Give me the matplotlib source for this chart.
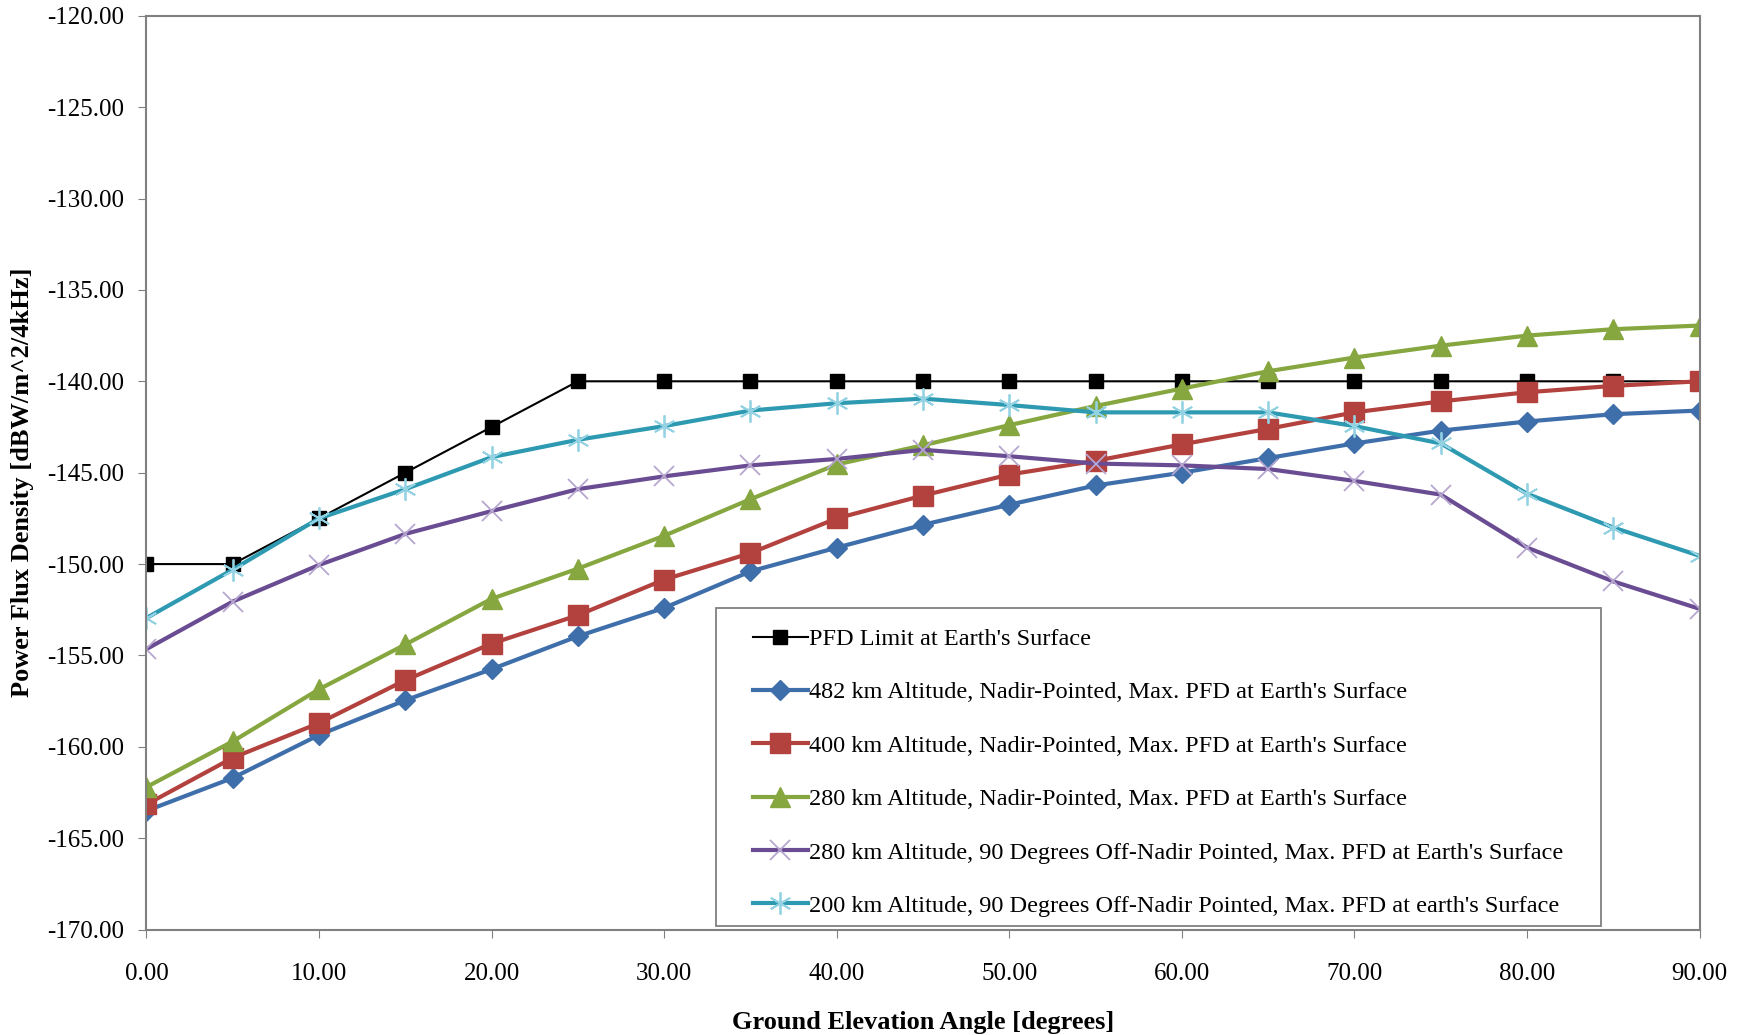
import matplotlib
matplotlib.use('Agg')
import matplotlib.pyplot as plt
from matplotlib.patches import Rectangle

plt.rcParams['font.family'] = ['Liberation Serif', 'DejaVu Serif']

angles = [0, 5, 10, 15, 20, 25, 30, 35, 40, 45, 50, 55, 60, 65, 70, 75, 80, 85, 90]

pfd_limit = [-150, -150, -147.5, -145, -142.5, -140, -140, -140, -140, -140,
             -140, -140, -140, -140, -140, -140, -140, -140, -140]
alt482 = [-163.5, -161.7, -159.35, -157.45, -155.75, -153.95, -152.4, -150.4, -149.1, -147.85,
          -146.75, -145.7, -145.0, -144.2, -143.4, -142.7, -142.2, -141.8, -141.6]
alt400 = [-163.15, -160.6, -158.7, -156.35, -154.35, -152.8, -150.85, -149.4, -147.5, -146.25,
          -145.1, -144.35, -143.45, -142.6, -141.7, -141.1, -140.6, -140.25, -140.0]
alt280 = [-162.2, -159.7, -156.85, -154.4, -151.9, -150.25, -148.45, -146.45, -144.55, -143.5,
          -142.4, -141.35, -140.4, -139.45, -138.7, -138.05, -137.5, -137.15, -136.95]
alt280_off = [-154.65, -152.05, -150.05, -148.35, -147.1, -145.9, -145.2, -144.6, -144.25, -143.75,
              -144.1, -144.5, -144.6, -144.8, -145.45, -146.2, -149.1, -150.95, -152.45]
alt200_off = [-152.95, -150.3, -147.5, -145.9, -144.15, -143.2, -142.45, -141.6, -141.2, -140.95,
              -141.3, -141.7, -141.7, -141.7, -142.45, -143.4, -146.15, -148.0, -149.55]

labels = ["PFD Limit at Earth's Surface",
          "482 km Altitude, Nadir-Pointed, Max. PFD at Earth's Surface",
          "400 km Altitude, Nadir-Pointed, Max. PFD at Earth's Surface",
          "280 km Altitude, Nadir-Pointed, Max. PFD at Earth's Surface",
          "280 km Altitude, 90 Degrees Off-Nadir Pointed, Max. PFD at Earth's Surface",
          "200 km Altitude, 90 Degrees Off-Nadir Pointed, Max. PFD at earth's Surface"]

fig = plt.figure(figsize=(17.54, 10.35), dpi=100)
ax = fig.add_axes([0.0835, 0.1018, 0.8855, 0.883])

ax.plot(angles, pfd_limit, color='black', lw=1.5, marker='s', ms=10, label=labels[0])
ax.plot(angles, alt482, color='#3F6FAA', lw=3, marker='D', ms=10, label=labels[1])
ax.plot(angles, alt400, color='#B3413E', lw=3, marker='s', ms=14, label=labels[2])
ax.plot(angles, alt280, color='#86A63F', lw=3, marker='^', ms=14, label=labels[3])
ax.plot(angles, alt280_off, color='#6A4C93', lw=3, marker='x', ms=14, mew=1.3,
        mec='#B7A6D0', label=labels[4])
ax.plot(angles, alt200_off, color='#2E9AB2', lw=3, marker=(6, 2, 0), ms=16, mew=1.3,
        mec='#93D2E2', label=labels[5])

ax.set_xlim(0, 90)
ax.set_ylim(-170, -120)
ax.set_xticks(range(0, 91, 10))
ax.set_yticks(range(-170, -119, 5))
ax.set_xticklabels([f'{v:.2f}' for v in range(0, 91, 10)])
ax.set_yticklabels([f'{v:.2f}' for v in range(-170, -119, 5)])
ax.tick_params(axis='both', direction='out', length=6, color='#808080', labelsize=18, pad=10)
ax.tick_params(axis='x', pad=18)
for s in ax.spines.values():
    s.set_color('#808080')
    s.set_linewidth(1.5)

ax.set_xlabel('Ground Elevation Angle [degrees]', fontsize=19, fontweight='bold', labelpad=19)
ax.set_ylabel('Power Flux Density [dBW/m^2/4kHz]', fontsize=19, fontweight='bold')
ax.yaxis.set_label_coords(-0.0727, 0.489)

# legend box drawn separately so the entries can sit where they do in the original
frame = Rectangle((0.3666, 0.004), 0.570, 0.348, transform=ax.transAxes,
                  facecolor='white', edgecolor='#808080', lw=1.3, zorder=5)
ax.add_patch(frame)
leg = ax.legend(loc='upper left', bbox_to_anchor=(0.3903, 0.330), frameon=False,
                fontsize=17.5, labelspacing=1.29, handlelength=2.26, handletextpad=0.05,
                borderaxespad=0, borderpad=0)
leg.set_zorder(6)

fig.savefig('out.png', dpi=100)
